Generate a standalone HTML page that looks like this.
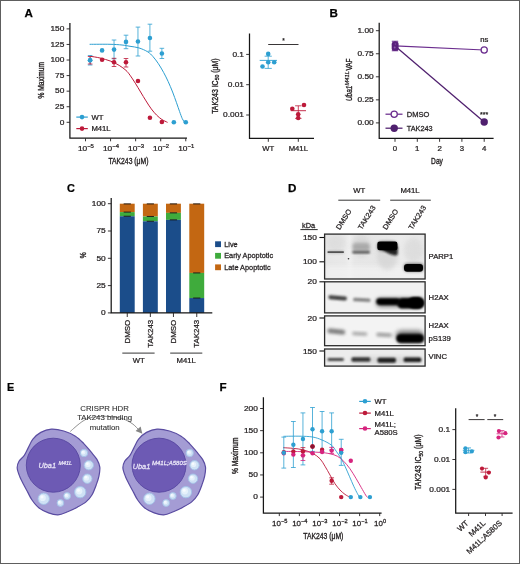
<!DOCTYPE html>
<html lang="en"><head><meta charset="utf-8"><title>Figure</title>
<style>
html,body{margin:0;padding:0;background:#fff}
svg{display:block}
text{font-family:"Liberation Sans",Arial,Helvetica,sans-serif;fill:#231f20;stroke:#231f20;stroke-width:0.25px;paint-order:stroke}
</style></head><body>
<svg width="520" height="564" viewBox="0 0 520 564">
<defs>
<filter id="b1" x="-20%" y="-50%" width="140%" height="200%"><feGaussianBlur stdDeviation="0.9"/></filter>
<filter id="b2" x="-20%" y="-50%" width="140%" height="200%"><feGaussianBlur stdDeviation="1.4"/></filter>
<filter id="b3" x="-20%" y="-60%" width="140%" height="220%"><feGaussianBlur stdDeviation="2.2"/></filter>
<filter id="b08" x="-20%" y="-80%" width="140%" height="260%"><feGaussianBlur stdDeviation="0.8"/></filter>
<filter id="b05" x="-20%" y="-50%" width="140%" height="200%"><feGaussianBlur stdDeviation="0.55"/></filter>
<linearGradient id="bg1" x1="0" x2="1" y1="0" y2="0">
<stop offset="0" stop-color="#e6e6e6"/><stop offset="0.2" stop-color="#e9e9e9"/><stop offset="0.25" stop-color="#efefef"/><stop offset="0.3" stop-color="#e7e7e7"/><stop offset="0.5" stop-color="#e6e6e6"/><stop offset="0.75" stop-color="#ebebeb"/><stop offset="1" stop-color="#e8e8e8"/>
</linearGradient>
</defs>
<rect x="0" y="0" width="520" height="564" fill="#fff"/>

<g id="panelA">
<text transform="translate(24.50,16.80)" font-size="11.6" font-weight="bold" style="fill:#000;stroke:#000;">A</text>
<path d="M90.00 44.30C93.33 44.30 104.67 44.18 110.00 44.30C115.33 44.42 118.67 44.67 122.00 45.00C125.33 45.33 127.18 45.82 130.00 46.30C132.82 46.78 135.95 46.98 138.90 47.90C141.85 48.82 145.35 50.35 147.70 51.80C150.05 53.25 151.22 54.62 153.00 56.60C154.78 58.58 156.62 61.03 158.40 63.70C160.18 66.37 162.08 69.65 163.70 72.60C165.32 75.55 166.62 78.17 168.10 81.40C169.58 84.63 171.20 88.45 172.60 92.00C174.00 95.55 175.33 99.43 176.50 102.70C177.67 105.97 178.63 108.93 179.60 111.60C180.57 114.27 181.47 116.90 182.30 118.70C183.13 120.50 184.22 121.78 184.60 122.40" stroke="#2d9fd1" stroke-width="1.0" fill="none" stroke-linecap="round"/>
<path d="M90.60 56.30C92.17 56.58 96.63 57.18 100.00 58.00C103.37 58.82 107.60 59.97 110.80 61.20C114.00 62.43 116.67 63.87 119.20 65.40C121.73 66.93 124.20 68.77 126.00 70.40C127.80 72.03 128.45 73.07 130.00 75.20C131.55 77.33 133.53 80.40 135.30 83.20C137.07 86.00 138.82 89.05 140.60 92.00C142.38 94.95 144.22 98.08 146.00 100.90C147.78 103.72 149.53 106.53 151.30 108.90C153.07 111.27 154.83 113.33 156.60 115.10C158.37 116.87 160.13 118.32 161.90 119.50C163.67 120.68 166.32 121.75 167.20 122.20" stroke="#bd1a3a" stroke-width="1.0" fill="none" stroke-linecap="round"/>
<path d="M90.12 55.50V65.00M87.82 55.50H92.42M87.82 65.00H92.42" stroke="#2d9fd1" stroke-width="0.8" fill="none"/>
<path d="M114.04 40.00V58.80M111.74 40.00H116.34M111.74 58.80H116.34" stroke="#2d9fd1" stroke-width="0.8" fill="none"/>
<path d="M126.00 35.20V48.70M123.70 35.20H128.30M123.70 48.70H128.30" stroke="#2d9fd1" stroke-width="0.8" fill="none"/>
<path d="M137.96 27.10V56.00M135.66 27.10H140.26M135.66 56.00H140.26" stroke="#2d9fd1" stroke-width="0.8" fill="none"/>
<path d="M149.92 24.20V51.20M147.62 24.20H152.22M147.62 51.20H152.22" stroke="#2d9fd1" stroke-width="0.8" fill="none"/>
<path d="M161.88 48.30V58.50M159.58 48.30H164.18M159.58 58.50H164.18" stroke="#2d9fd1" stroke-width="0.8" fill="none"/>
<circle cx="90.12" cy="60.20" r="2.3" fill="#2d9fd1"/>
<circle cx="102.08" cy="50.40" r="2.3" fill="#2d9fd1"/>
<circle cx="114.04" cy="49.60" r="2.3" fill="#2d9fd1"/>
<circle cx="126.00" cy="41.90" r="2.3" fill="#2d9fd1"/>
<circle cx="137.96" cy="41.50" r="2.3" fill="#2d9fd1"/>
<circle cx="149.92" cy="38.00" r="2.3" fill="#2d9fd1"/>
<circle cx="161.88" cy="53.50" r="2.3" fill="#2d9fd1"/>
<circle cx="173.84" cy="122.30" r="2.3" fill="#2d9fd1"/>
<circle cx="185.80" cy="122.30" r="2.3" fill="#2d9fd1"/>
<path d="M90.12 56.50V64.00M87.82 56.50H92.42M87.82 64.00H92.42" stroke="#bd1a3a" stroke-width="0.8" fill="none"/>
<path d="M114.04 58.30V66.50M111.74 58.30H116.34M111.74 66.50H116.34" stroke="#bd1a3a" stroke-width="0.8" fill="none"/>
<path d="M126.00 58.50V67.00M123.70 58.50H128.30M123.70 67.00H128.30" stroke="#bd1a3a" stroke-width="0.8" fill="none"/>
<circle cx="102.08" cy="59.80" r="2.3" fill="#bd1a3a"/>
<circle cx="114.04" cy="62.30" r="2.3" fill="#bd1a3a"/>
<circle cx="126.00" cy="62.30" r="2.3" fill="#bd1a3a"/>
<circle cx="137.96" cy="81.00" r="2.3" fill="#bd1a3a"/>
<circle cx="149.92" cy="117.70" r="2.3" fill="#bd1a3a"/>
<circle cx="161.88" cy="122.00" r="2.3" fill="#bd1a3a"/>
<circle cx="90.12" cy="60.20" r="2.3" fill="#2d9fd1"/>
<path d="M69.90 22.90V138.20H187.00" stroke="#161616" stroke-width="1.25" fill="none" stroke-linejoin="miter"/>
<line x1="66.60" y1="28.88" x2="69.90" y2="28.88" stroke="#231f20" stroke-width="0.9"/>
<text transform="translate(64.40,31.18) scale(1.1,1)" font-size="7.6" text-anchor="end">150</text>
<line x1="66.60" y1="44.45" x2="69.90" y2="44.45" stroke="#231f20" stroke-width="0.9"/>
<text transform="translate(64.40,46.75) scale(1.1,1)" font-size="7.6" text-anchor="end">125</text>
<line x1="66.60" y1="60.02" x2="69.90" y2="60.02" stroke="#231f20" stroke-width="0.9"/>
<text transform="translate(64.40,62.32) scale(1.1,1)" font-size="7.6" text-anchor="end">100</text>
<line x1="66.60" y1="75.59" x2="69.90" y2="75.59" stroke="#231f20" stroke-width="0.9"/>
<text transform="translate(64.40,77.89) scale(1.1,1)" font-size="7.6" text-anchor="end">75</text>
<line x1="66.60" y1="91.16" x2="69.90" y2="91.16" stroke="#231f20" stroke-width="0.9"/>
<text transform="translate(64.40,93.46) scale(1.1,1)" font-size="7.6" text-anchor="end">50</text>
<line x1="66.60" y1="106.73" x2="69.90" y2="106.73" stroke="#231f20" stroke-width="0.9"/>
<text transform="translate(64.40,109.03) scale(1.1,1)" font-size="7.6" text-anchor="end">25</text>
<line x1="66.60" y1="122.30" x2="69.90" y2="122.30" stroke="#231f20" stroke-width="0.9"/>
<text transform="translate(64.40,124.60) scale(1.1,1)" font-size="7.6" text-anchor="end">0</text>
<line x1="85.50" y1="138.30" x2="85.50" y2="141.30" stroke="#231f20" stroke-width="0.9"/>
<text transform="translate(85.90,151.30) scale(1.1,1)" font-size="7.6" text-anchor="middle">10<tspan font-size="5.4" dy="-3">−5</tspan></text>
<line x1="110.57" y1="138.30" x2="110.57" y2="141.30" stroke="#231f20" stroke-width="0.9"/>
<text transform="translate(110.97,151.30) scale(1.1,1)" font-size="7.6" text-anchor="middle">10<tspan font-size="5.4" dy="-3">−4</tspan></text>
<line x1="135.64" y1="138.30" x2="135.64" y2="141.30" stroke="#231f20" stroke-width="0.9"/>
<text transform="translate(136.04,151.30) scale(1.1,1)" font-size="7.6" text-anchor="middle">10<tspan font-size="5.4" dy="-3">−3</tspan></text>
<line x1="160.71" y1="138.30" x2="160.71" y2="141.30" stroke="#231f20" stroke-width="0.9"/>
<text transform="translate(161.11,151.30) scale(1.1,1)" font-size="7.6" text-anchor="middle">10<tspan font-size="5.4" dy="-3">−2</tspan></text>
<line x1="185.78" y1="138.30" x2="185.78" y2="141.30" stroke="#231f20" stroke-width="0.9"/>
<text transform="translate(186.18,151.30) scale(1.1,1)" font-size="7.6" text-anchor="middle">10<tspan font-size="5.4" dy="-3">−1</tspan></text>
<text transform="translate(44.00,80.30) rotate(-90) scale(0.81,1)" font-size="8.2" text-anchor="middle" style="stroke-width:0.35px;">% Maximum</text>
<text transform="translate(128.40,164.00) scale(0.83,1)" font-size="8.2" text-anchor="middle" style="stroke-width:0.35px;">TAK243 (μM)</text>
<line x1="76.30" y1="117.10" x2="87.80" y2="117.10" stroke="#2d9fd1" stroke-width="1.2"/>
<circle cx="82.00" cy="117.10" r="2.3" fill="#2d9fd1"/>
<text transform="translate(91.40,119.60) scale(1.1,1)" font-size="7">WT</text>
<line x1="76.30" y1="128.60" x2="87.80" y2="128.60" stroke="#bd1a3a" stroke-width="1.2"/>
<circle cx="82.00" cy="128.60" r="2.3" fill="#bd1a3a"/>
<text transform="translate(91.40,131.10) scale(1.1,1)" font-size="7">M41L</text>
<path d="M249.50 33.50V138.40H314.00" stroke="#161616" stroke-width="1.25" fill="none" stroke-linejoin="miter"/>
<line x1="246.20" y1="54.40" x2="249.50" y2="54.40" stroke="#231f20" stroke-width="0.9"/>
<text transform="translate(244.00,56.70) scale(1.1,1)" font-size="7.6" text-anchor="end">0.1</text>
<line x1="246.20" y1="84.70" x2="249.50" y2="84.70" stroke="#231f20" stroke-width="0.9"/>
<text transform="translate(244.00,87.00) scale(1.1,1)" font-size="7.6" text-anchor="end">0.01</text>
<line x1="246.20" y1="115.00" x2="249.50" y2="115.00" stroke="#231f20" stroke-width="0.9"/>
<text transform="translate(244.00,117.30) scale(1.1,1)" font-size="7.6" text-anchor="end">0.001</text>
<line x1="268.30" y1="138.40" x2="268.30" y2="141.80" stroke="#231f20" stroke-width="0.9"/>
<text transform="translate(268.30,150.60) scale(1.1,1)" font-size="7" text-anchor="middle">WT</text>
<line x1="298.30" y1="138.40" x2="298.30" y2="141.80" stroke="#231f20" stroke-width="0.9"/>
<text transform="translate(298.30,150.60) scale(1.1,1)" font-size="7" text-anchor="middle">M41L</text>
<text transform="translate(217.60,86.10) rotate(-90) scale(0.85,1)" font-size="8.2" text-anchor="middle" style="stroke-width:0.35px;">TAK243 IC<tspan font-size="6" dy="1.8">50</tspan><tspan dy="-1.8"> (μM)</tspan></text>
<line x1="268.20" y1="44.50" x2="298.50" y2="44.50" stroke="#231f20" stroke-width="0.9"/>
<text transform="translate(283.40,43.40)" font-size="6.5" text-anchor="middle">*</text>
<line x1="259.70" y1="60.40" x2="277.00" y2="60.40" stroke="#2d9fd1" stroke-width="0.9"/>
<path d="M268.20 56.20V68.40M264.60 56.20H271.80M264.60 68.40H271.80" stroke="#2d9fd1" stroke-width="0.8" fill="none"/>
<circle cx="268.20" cy="53.90" r="2.3" fill="#2d9fd1"/>
<circle cx="268.20" cy="62.20" r="2.3" fill="#2d9fd1"/>
<circle cx="274.20" cy="62.20" r="2.3" fill="#2d9fd1"/>
<circle cx="262.50" cy="66.50" r="2.3" fill="#2d9fd1"/>
<line x1="290.80" y1="110.70" x2="306.00" y2="110.70" stroke="#bd1a3a" stroke-width="0.9"/>
<path d="M298.30 105.80V118.40M295.10 105.80H301.50M295.10 118.40H301.50" stroke="#bd1a3a" stroke-width="0.8" fill="none"/>
<circle cx="292.30" cy="108.80" r="2.3" fill="#bd1a3a"/>
<circle cx="304.00" cy="105.00" r="2.3" fill="#bd1a3a"/>
<circle cx="298.20" cy="114.20" r="2.3" fill="#bd1a3a"/>
<circle cx="298.20" cy="118.00" r="2.3" fill="#bd1a3a"/>
</g>
<g id="panelB">
<text transform="translate(329.40,16.60)" font-size="11.6" font-weight="bold" style="fill:#000;stroke:#000;">B</text>
<line x1="395.00" y1="45.90" x2="484.20" y2="50.00" stroke="#6b2d8e" stroke-width="1.25"/>
<line x1="395.00" y1="45.90" x2="484.20" y2="122.00" stroke="#4f1f6e" stroke-width="1.25"/>
<path d="M395.00 41.20V50.80M391.80 41.20H398.20M391.80 50.80H398.20" stroke="#6b2d8e" stroke-width="1.1" fill="none"/>
<rect x="391.7" y="41.6" width="6.9" height="9.2" rx="2.6" fill="#5a1f7c"/>
<circle cx="394.70" cy="47.60" r="1.0" fill="#8a5aa8"/>
<circle cx="395.40" cy="44.00" r="0.8" fill="#7d4a9d"/>
<circle cx="484.20" cy="50.00" r="3.1" fill="#fff" stroke="#6b2d8e" stroke-width="1.25"/>
<circle cx="484.20" cy="122.00" r="3.7" fill="#4f1f6e"/>
<text transform="translate(484.20,41.80) scale(1.1,1)" font-size="7" text-anchor="middle">ns</text>
<text transform="translate(484.20,117.00)" font-size="7" text-anchor="middle">***</text>
<path d="M379.20 22.70V138.30H493.60" stroke="#161616" stroke-width="1.25" fill="none" stroke-linejoin="miter"/>
<line x1="375.90" y1="30.70" x2="379.20" y2="30.70" stroke="#231f20" stroke-width="0.9"/>
<text transform="translate(373.70,33.00) scale(1.1,1)" font-size="7.6" text-anchor="end">1.00</text>
<line x1="375.90" y1="53.75" x2="379.20" y2="53.75" stroke="#231f20" stroke-width="0.9"/>
<text transform="translate(373.70,56.05) scale(1.1,1)" font-size="7.6" text-anchor="end">0.75</text>
<line x1="375.90" y1="76.80" x2="379.20" y2="76.80" stroke="#231f20" stroke-width="0.9"/>
<text transform="translate(373.70,79.10) scale(1.1,1)" font-size="7.6" text-anchor="end">0.50</text>
<line x1="375.90" y1="99.85" x2="379.20" y2="99.85" stroke="#231f20" stroke-width="0.9"/>
<text transform="translate(373.70,102.15) scale(1.1,1)" font-size="7.6" text-anchor="end">0.25</text>
<line x1="375.90" y1="122.90" x2="379.20" y2="122.90" stroke="#231f20" stroke-width="0.9"/>
<text transform="translate(373.70,125.20) scale(1.1,1)" font-size="7.6" text-anchor="end">0.00</text>
<line x1="395.00" y1="138.30" x2="395.00" y2="141.80" stroke="#231f20" stroke-width="0.9"/>
<text transform="translate(395.00,151.40) scale(1.12,1)" font-size="7" text-anchor="middle">0</text>
<line x1="417.30" y1="138.30" x2="417.30" y2="141.80" stroke="#231f20" stroke-width="0.9"/>
<text transform="translate(417.30,151.40) scale(1.12,1)" font-size="7" text-anchor="middle">1</text>
<line x1="439.60" y1="138.30" x2="439.60" y2="141.80" stroke="#231f20" stroke-width="0.9"/>
<text transform="translate(439.60,151.40) scale(1.12,1)" font-size="7" text-anchor="middle">2</text>
<line x1="461.90" y1="138.30" x2="461.90" y2="141.80" stroke="#231f20" stroke-width="0.9"/>
<text transform="translate(461.90,151.40) scale(1.12,1)" font-size="7" text-anchor="middle">3</text>
<line x1="484.20" y1="138.30" x2="484.20" y2="141.80" stroke="#231f20" stroke-width="0.9"/>
<text transform="translate(484.20,151.40) scale(1.12,1)" font-size="7" text-anchor="middle">4</text>
<text transform="translate(437.00,164.20) scale(0.81,1)" font-size="8.2" text-anchor="middle" style="stroke-width:0.35px;">Day</text>
<text transform="translate(351.70,101.00) rotate(-90) scale(0.78,1)" font-size="8.2" font-style="italic" style="stroke-width:0.35px;">Uba1</text>
<text transform="translate(348.90,85.40) rotate(-90)" font-size="5.7" font-style="italic">M41L</text>
<text transform="translate(351.70,70.60) rotate(-90) scale(0.78,1)" font-size="8.2" style="stroke-width:0.35px;">VAF</text>
<line x1="385.50" y1="114.20" x2="402.50" y2="114.20" stroke="#6b2d8e" stroke-width="1.25"/>
<circle cx="394.20" cy="114.20" r="3.1" fill="#fff" stroke="#6b2d8e" stroke-width="1.25"/>
<text transform="translate(406.70,116.80) scale(1.08,1)" font-size="7">DMSO</text>
<line x1="385.50" y1="128.20" x2="402.50" y2="128.20" stroke="#4f1f6e" stroke-width="1.25"/>
<circle cx="394.20" cy="128.20" r="3.7" fill="#4f1f6e"/>
<text transform="translate(406.70,130.80) scale(1.05,1)" font-size="7">TAK243</text>
</g>
<g id="panelC">
<text transform="translate(66.90,191.60) scale(0.94,1)" font-size="11.6" font-weight="bold" style="fill:#000;stroke:#000;">C</text>
<rect x="119.80" y="203.70" width="14.9" height="8.41" fill="#c36712"/>
<rect x="119.80" y="212.11" width="14.9" height="4.15" fill="#3fab3c"/>
<rect x="119.80" y="216.26" width="14.9" height="96.64" fill="#1b4d8a"/>
<line x1="123.65" y1="203.90" x2="130.85" y2="203.90" stroke="#111" stroke-width="0.9"/>
<line x1="123.65" y1="212.11" x2="130.85" y2="212.11" stroke="#111" stroke-width="0.9"/>
<line x1="123.65" y1="216.26" x2="130.85" y2="216.26" stroke="#111" stroke-width="0.9"/>
<rect x="142.90" y="203.70" width="14.9" height="12.78" fill="#c36712"/>
<rect x="142.90" y="216.48" width="14.9" height="4.80" fill="#3fab3c"/>
<rect x="142.90" y="221.28" width="14.9" height="91.62" fill="#1b4d8a"/>
<line x1="146.75" y1="203.90" x2="153.95" y2="203.90" stroke="#111" stroke-width="0.9"/>
<line x1="146.75" y1="216.48" x2="153.95" y2="216.48" stroke="#111" stroke-width="0.9"/>
<line x1="146.75" y1="221.28" x2="153.95" y2="221.28" stroke="#111" stroke-width="0.9"/>
<rect x="166.00" y="203.70" width="14.9" height="9.17" fill="#c36712"/>
<rect x="166.00" y="212.87" width="14.9" height="6.99" fill="#3fab3c"/>
<rect x="166.00" y="219.86" width="14.9" height="93.04" fill="#1b4d8a"/>
<line x1="169.85" y1="203.90" x2="177.05" y2="203.90" stroke="#111" stroke-width="0.9"/>
<line x1="169.85" y1="212.87" x2="177.05" y2="212.87" stroke="#111" stroke-width="0.9"/>
<line x1="169.85" y1="219.86" x2="177.05" y2="219.86" stroke="#111" stroke-width="0.9"/>
<rect x="189.30" y="203.70" width="14.9" height="69.23" fill="#c36712"/>
<rect x="189.30" y="272.93" width="14.9" height="25.12" fill="#3fab3c"/>
<rect x="189.30" y="298.05" width="14.9" height="14.85" fill="#1b4d8a"/>
<line x1="193.15" y1="203.90" x2="200.35" y2="203.90" stroke="#111" stroke-width="0.9"/>
<line x1="193.15" y1="272.93" x2="200.35" y2="272.93" stroke="#111" stroke-width="0.9"/>
<line x1="193.15" y1="298.05" x2="200.35" y2="298.05" stroke="#111" stroke-width="0.9"/>
<path d="M111.20 198.00V312.90H212.30" stroke="#161616" stroke-width="1.25" fill="none" stroke-linejoin="miter"/>
<line x1="107.90" y1="203.70" x2="111.20" y2="203.70" stroke="#231f20" stroke-width="0.9"/>
<text transform="translate(105.70,206.00) scale(1.1,1)" font-size="7.6" text-anchor="end">100</text>
<line x1="107.90" y1="231.00" x2="111.20" y2="231.00" stroke="#231f20" stroke-width="0.9"/>
<text transform="translate(105.70,233.30) scale(1.1,1)" font-size="7.6" text-anchor="end">75</text>
<line x1="107.90" y1="258.30" x2="111.20" y2="258.30" stroke="#231f20" stroke-width="0.9"/>
<text transform="translate(105.70,260.60) scale(1.1,1)" font-size="7.6" text-anchor="end">50</text>
<line x1="107.90" y1="285.60" x2="111.20" y2="285.60" stroke="#231f20" stroke-width="0.9"/>
<text transform="translate(105.70,287.90) scale(1.1,1)" font-size="7.6" text-anchor="end">25</text>
<line x1="107.90" y1="312.90" x2="111.20" y2="312.90" stroke="#231f20" stroke-width="0.9"/>
<text transform="translate(105.70,315.20) scale(1.1,1)" font-size="7.6" text-anchor="end">0</text>
<line x1="127.25" y1="312.90" x2="127.25" y2="317.00" stroke="#231f20" stroke-width="0.9"/>
<text transform="translate(129.85,319.80) rotate(-90) scale(1.1,1)" font-size="7.2" text-anchor="end">DMSO</text>
<line x1="150.35" y1="312.90" x2="150.35" y2="317.00" stroke="#231f20" stroke-width="0.9"/>
<text transform="translate(152.95,319.80) rotate(-90) scale(1.1,1)" font-size="7.2" text-anchor="end">TAK243</text>
<line x1="173.45" y1="312.90" x2="173.45" y2="317.00" stroke="#231f20" stroke-width="0.9"/>
<text transform="translate(176.05,319.80) rotate(-90) scale(1.1,1)" font-size="7.2" text-anchor="end">DMSO</text>
<line x1="196.75" y1="312.90" x2="196.75" y2="317.00" stroke="#231f20" stroke-width="0.9"/>
<text transform="translate(199.35,319.80) rotate(-90) scale(1.1,1)" font-size="7.2" text-anchor="end">TAK243</text>
<text transform="translate(86.00,255.30) rotate(-90) scale(0.81,1)" font-size="8.2" text-anchor="middle" style="stroke-width:0.35px;">%</text>
<line x1="122.30" y1="353.10" x2="154.60" y2="353.10" stroke="#000" stroke-width="0.8"/>
<line x1="170.20" y1="353.10" x2="202.30" y2="353.10" stroke="#000" stroke-width="0.8"/>
<text transform="translate(138.60,362.80) scale(1.1,1)" font-size="7" text-anchor="middle">WT</text>
<text transform="translate(186.20,362.80) scale(1.1,1)" font-size="7" text-anchor="middle">M41L</text>
<rect x="215.1" y="241.30" width="5.9" height="5.8" fill="#1b4d8a"/>
<text transform="translate(224.20,246.70) scale(1.05,1)" font-size="7">Live</text>
<rect x="215.1" y="252.90" width="5.9" height="5.8" fill="#3fab3c"/>
<text transform="translate(224.20,258.30) scale(1.05,1)" font-size="7">Early Apoptotic</text>
<rect x="215.1" y="264.40" width="5.9" height="5.8" fill="#c36712"/>
<text transform="translate(224.20,269.80) scale(1.05,1)" font-size="7">Late Apoptotic</text>
</g>
<g id="panelD">
<text transform="translate(288.00,192.40)" font-size="11.6" font-weight="bold" style="fill:#000;stroke:#000;">D</text>
<text transform="translate(359.20,192.80) scale(1.1,1)" font-size="7" text-anchor="middle">WT</text>
<text transform="translate(410.00,192.80) scale(1.1,1)" font-size="7" text-anchor="middle">M41L</text>
<line x1="338.30" y1="200.20" x2="380.20" y2="200.20" stroke="#000" stroke-width="0.8"/>
<line x1="390.20" y1="200.20" x2="430.80" y2="200.20" stroke="#000" stroke-width="0.8"/>
<text transform="translate(339.80,230.20) rotate(-58) scale(1.05,1)" font-size="7.2">DMSO</text>
<text transform="translate(361.70,230.20) rotate(-58) scale(1.05,1)" font-size="7.2">TAK243</text>
<text transform="translate(386.50,230.20) rotate(-58) scale(1.05,1)" font-size="7.2">DMSO</text>
<text transform="translate(412.20,230.20) rotate(-58) scale(1.05,1)" font-size="7.2">TAK243</text>
<text transform="translate(302.00,227.70) scale(1.02,1)" font-size="7.3">kDa</text>
<line x1="300.40" y1="229.60" x2="317.70" y2="229.60" stroke="#111" stroke-width="0.9"/>
<line x1="319.40" y1="237.50" x2="324.60" y2="237.50" stroke="#111" stroke-width="1.1"/>
<text transform="translate(316.90,240.10) scale(1.1,1)" font-size="7.6" text-anchor="end">150</text>
<line x1="319.40" y1="261.80" x2="324.60" y2="261.80" stroke="#111" stroke-width="1.1"/>
<text transform="translate(316.90,264.40) scale(1.1,1)" font-size="7.6" text-anchor="end">100</text>
<line x1="319.40" y1="281.80" x2="324.60" y2="281.80" stroke="#111" stroke-width="1.1"/>
<text transform="translate(316.90,284.40) scale(1.1,1)" font-size="7.6" text-anchor="end">20</text>
<line x1="319.40" y1="318.00" x2="324.60" y2="318.00" stroke="#111" stroke-width="1.1"/>
<text transform="translate(316.90,320.60) scale(1.1,1)" font-size="7.6" text-anchor="end">20</text>
<line x1="319.40" y1="351.00" x2="324.60" y2="351.00" stroke="#111" stroke-width="1.1"/>
<text transform="translate(316.90,353.60) scale(1.1,1)" font-size="7.6" text-anchor="end">150</text>
<text transform="translate(428.60,259.00) scale(1.1,1)" font-size="7">PARP1</text>
<text transform="translate(428.60,299.70) scale(1.1,1)" font-size="7">H2AX</text>
<text transform="translate(428.60,328.20) scale(1.1,1)" font-size="7">H2AX</text>
<text transform="translate(428.60,340.70) scale(1.1,1)" font-size="7">pS139</text>
<text transform="translate(428.60,359.40) scale(1.1,1)" font-size="7">VINC</text>
<clipPath id="cp0"><rect x="324.6" y="234.1" width="100.50" height="44.90"/></clipPath>
<rect x="324.6" y="234.1" width="100.50" height="44.90" fill="url(#bg1)"/>
<clipPath id="cp1"><rect x="324.6" y="281.8" width="100.50" height="31.10"/></clipPath>
<rect x="324.6" y="281.8" width="100.50" height="31.10" fill="#f1f1f1"/>
<clipPath id="cp2"><rect x="324.6" y="315.9" width="100.50" height="29.80"/></clipPath>
<rect x="324.6" y="315.9" width="100.50" height="29.80" fill="#f3f3f3"/>
<clipPath id="cp3"><rect x="324.6" y="349.0" width="100.50" height="17.10"/></clipPath>
<rect x="324.6" y="349.0" width="100.50" height="17.10" fill="#ececec"/>
<g clip-path="url(#cp0)">
<rect x="324.6" y="266" width="101" height="13" fill="#f2f2f2" opacity="0.7" filter="url(#b3)"/>
<rect x="327.00" y="235.00" width="18.00" height="16.00" rx="8.0" fill="#d8d8d8" opacity="0.6" filter="url(#b3)"/>
<rect x="352.00" y="235.00" width="18.50" height="22.00" rx="11.0" fill="#d0d0d0" opacity="0.6" filter="url(#b3)"/>
<rect x="377.00" y="242.00" width="20.50" height="28.00" rx="14.0" fill="#cfcfcf" opacity="0.6" filter="url(#b3)"/>
<rect x="404.00" y="238.00" width="19.00" height="24.00" rx="12.0" fill="#d6d6d6" opacity="0.6" filter="url(#b3)"/>
<rect x="327.40" y="251.25" width="16.60" height="1.70" rx="0.85" fill="#2a2a2a" opacity="0.85" filter="url(#b05)"/>
<rect x="327.40" y="250.60" width="16.60" height="3.00" rx="1.5" fill="#777" opacity="0.35" filter="url(#b1)"/>
<rect x="352.50" y="242.70" width="17.30" height="7.40" rx="3.7" fill="#9a9a9a" opacity="0.7" filter="url(#b2)"/>
<rect x="352.50" y="247.50" width="17.30" height="4.00" rx="2.0" fill="#999" opacity="0.35" filter="url(#b2)"/>
<rect x="352.30" y="251.10" width="17.70" height="2.40" rx="1.2" fill="#4a4a4a" opacity="0.95" filter="url(#b1)"/>
<path d="M383.0 247.0H397.7V253.8Q397.7 255.6 395.2 255.4C391.0 255.0 387.0 253.0 383.0 250.0Z" fill="#141414" opacity="0.92" filter="url(#b08)"/>
<rect x="377.30" y="241.50" width="20.20" height="8.80" rx="2.4" fill="#000" opacity="1" filter="url(#b05)"/>
<rect x="377.20" y="241.40" width="20.30" height="9.60" rx="4.8" fill="#000" opacity="0.55" filter="url(#b2)"/>
<rect x="404.00" y="263.90" width="19.00" height="7.80" rx="3.2" fill="#000" opacity="1" filter="url(#b05)"/>
<rect x="403.80" y="263.50" width="19.80" height="8.00" rx="4.0" fill="#000" opacity="0.6" filter="url(#b2)"/>
<circle cx="348.50" cy="258.80" r="0.8" fill="#333"/>
</g>
<g clip-path="url(#cp1)">
<rect x="328.30" y="295.70" width="18.70" height="4.20" rx="2.1" fill="#3a3a3a" opacity="0.95" filter="url(#b1)" transform="rotate(5 337.65 297.80)"/>
<rect x="353.00" y="298.30" width="17.60" height="3.20" rx="1.6" fill="#6e6e6e" opacity="0.9" filter="url(#b1)" transform="rotate(3 361.80 299.90)"/>
<rect x="376.30" y="298.30" width="23.70" height="6.60" rx="3.3" fill="#000" opacity="1" filter="url(#b1)"/>
<rect x="397.00" y="298.00" width="26.70" height="10.40" rx="5.2" fill="#000" opacity="1" filter="url(#b1)"/>
<rect x="408.00" y="297.10" width="16.10" height="11.40" rx="5.7" fill="#000" opacity="1" filter="url(#b1)"/>
<rect x="376.00" y="297.90" width="48.00" height="9.00" rx="4.5" fill="#000" opacity="0.5" filter="url(#b3)"/>
</g>
<g clip-path="url(#cp2)">
<rect x="327.40" y="329.00" width="17.80" height="5.00" rx="2.5" fill="#7a7a7a" opacity="0.95" filter="url(#b2)" transform="rotate(6 336.30 331.50)"/>
<rect x="352.00" y="332.00" width="15.40" height="3.60" rx="1.8" fill="#a6a6a6" opacity="0.95" filter="url(#b2)" transform="rotate(3 359.70 333.80)"/>
<rect x="376.20" y="332.90" width="15.80" height="3.80" rx="1.9" fill="#9a9a9a" opacity="0.95" filter="url(#b2)" transform="rotate(3 384.10 334.80)"/>
<rect x="395.50" y="330.30" width="28.50" height="11.00" rx="5.5" fill="#555" opacity="0.7" filter="url(#b3)"/>
<rect x="396.60" y="334.50" width="27.00" height="8.00" rx="4" fill="#000" opacity="1" filter="url(#b1)"/>
<rect x="397.00" y="334.00" width="27.00" height="9.00" rx="4.5" fill="#000" opacity="0.6" filter="url(#b2)"/>
</g>
<g clip-path="url(#cp3)">
<rect x="327.60" y="357.90" width="16.20" height="3.00" rx="1" fill="#3a3a3a" opacity="0.95" filter="url(#b08)"/>
<rect x="351.60" y="357.60" width="18.70" height="4.00" rx="1.4" fill="#080808" opacity="1" filter="url(#b08)"/>
<rect x="377.40" y="357.70" width="18.60" height="5.00" rx="1.8" fill="#000" opacity="1" filter="url(#b08)"/>
<rect x="403.60" y="357.60" width="17.60" height="4.40" rx="1.5" fill="#000" opacity="1" filter="url(#b08)"/>
<rect x="351.60" y="357.00" width="69.60" height="6.00" rx="3.0" fill="#999" opacity="0.25" filter="url(#b3)"/>
</g>
<rect x="324.6" y="234.1" width="100.50" height="44.90" fill="none" stroke="#2a2a2a" stroke-width="1.3"/>
<rect x="324.6" y="281.8" width="100.50" height="31.10" fill="none" stroke="#2a2a2a" stroke-width="1.3"/>
<rect x="324.6" y="315.9" width="100.50" height="29.80" fill="none" stroke="#2a2a2a" stroke-width="1.3"/>
<rect x="324.6" y="349.0" width="100.50" height="17.10" fill="none" stroke="#2a2a2a" stroke-width="1.3"/>
</g>
<g id="panelE">
<text transform="translate(7.00,391.40) scale(0.94,1)" font-size="11.6" font-weight="bold" style="fill:#000;stroke:#000;">E</text>
<path d="M70.60 431.20C71.33 430.55 73.57 428.53 75.00 427.30C76.43 426.07 77.53 425.05 79.20 423.80C80.87 422.55 82.87 420.87 85.00 419.80C87.13 418.73 88.73 417.98 92.00 417.40C95.27 416.82 100.43 416.30 104.60 416.30C108.77 416.30 113.53 416.82 117.00 417.40C120.47 417.98 122.73 418.67 125.40 419.80C128.07 420.93 130.67 422.43 133.00 424.20C135.33 425.97 138.33 429.37 139.40 430.40" stroke="#858585" stroke-width="0.9" fill="none" stroke-linecap="round"/>
<path d="M142.4 433.8L135.6 430.9L140.6 426.6Z" fill="#858585"/>
<g transform="translate(0,0)">
<path d="M51.30 429.10C55.13 428.87 59.78 429.82 63.80 431.00C67.82 432.18 72.03 434.07 75.40 436.20C78.77 438.33 81.43 441.22 84.00 443.80C86.57 446.38 88.65 449.10 90.80 451.70C92.95 454.30 95.40 456.83 96.90 459.40C98.40 461.97 99.45 464.37 99.80 467.10C100.15 469.83 99.57 472.92 99.00 475.80C98.43 478.68 97.58 481.20 96.40 484.40C95.22 487.60 93.63 492.08 91.90 495.00C90.17 497.92 88.43 499.87 86.00 501.90C83.57 503.93 80.35 505.55 77.30 507.20C74.25 508.85 70.92 510.52 67.70 511.80C64.48 513.08 61.20 514.72 58.00 514.90C54.80 515.08 51.70 514.08 48.50 512.90C45.30 511.72 41.55 509.95 38.80 507.80C36.05 505.65 33.85 502.62 32.00 500.00C30.15 497.38 29.10 494.70 27.70 492.10C26.30 489.50 24.92 486.97 23.60 484.40C22.28 481.83 20.87 479.43 19.80 476.70C18.73 473.97 17.33 470.57 17.20 468.00C17.07 465.43 17.82 463.40 19.00 461.30C20.18 459.20 22.77 457.63 24.30 455.40C25.83 453.17 26.77 450.60 28.20 447.90C29.63 445.20 30.80 441.78 32.90 439.20C35.00 436.62 37.73 434.08 40.80 432.40C43.87 430.72 47.47 429.33 51.30 429.10Z" fill="#a49cd4" stroke="#5a4ca1" stroke-width="1.2"/>
<circle cx="53.3" cy="465.2" r="27" fill="#6d5ab4" stroke="#5746a0" stroke-width="0.9"/>
<circle cx="84.0" cy="453.0" r="3.7" fill="#cfe1f5" stroke="#a3c2e6" stroke-width="0.9"/>
<circle cx="83.33" cy="452.44" r="2.04" fill="#e6f1fb"/>
<circle cx="82.89" cy="451.89" r="0.96" fill="#f7fbff"/>
<circle cx="88.8" cy="465.2" r="4.7" fill="#cfe1f5" stroke="#a3c2e6" stroke-width="0.9"/>
<circle cx="87.95" cy="464.50" r="2.59" fill="#e6f1fb"/>
<circle cx="87.39" cy="463.79" r="1.22" fill="#f7fbff"/>
<circle cx="87.3" cy="478.7" r="4.7" fill="#cfe1f5" stroke="#a3c2e6" stroke-width="0.9"/>
<circle cx="86.45" cy="478.00" r="2.59" fill="#e6f1fb"/>
<circle cx="85.89" cy="477.29" r="1.22" fill="#f7fbff"/>
<circle cx="80.2" cy="492.1" r="5.7" fill="#cfe1f5" stroke="#a3c2e6" stroke-width="0.9"/>
<circle cx="79.17" cy="491.25" r="3.14" fill="#e6f1fb"/>
<circle cx="78.49" cy="490.39" r="1.48" fill="#f7fbff"/>
<circle cx="67.1" cy="496.0" r="3.4" fill="#cfe1f5" stroke="#a3c2e6" stroke-width="0.9"/>
<circle cx="66.49" cy="495.49" r="1.87" fill="#e6f1fb"/>
<circle cx="66.08" cy="494.98" r="0.88" fill="#f7fbff"/>
<circle cx="60.4" cy="503.0" r="3.4" fill="#cfe1f5" stroke="#a3c2e6" stroke-width="0.9"/>
<circle cx="59.79" cy="502.49" r="1.87" fill="#e6f1fb"/>
<circle cx="59.38" cy="501.98" r="0.88" fill="#f7fbff"/>
<circle cx="43.7" cy="498.8" r="5.7" fill="#cfe1f5" stroke="#a3c2e6" stroke-width="0.9"/>
<circle cx="42.67" cy="497.94" r="3.14" fill="#e6f1fb"/>
<circle cx="41.99" cy="497.09" r="1.48" fill="#f7fbff"/>
</g>
<g transform="translate(105.7,0)">
<path d="M51.30 429.10C55.13 428.87 59.78 429.82 63.80 431.00C67.82 432.18 72.03 434.07 75.40 436.20C78.77 438.33 81.43 441.22 84.00 443.80C86.57 446.38 88.65 449.10 90.80 451.70C92.95 454.30 95.40 456.83 96.90 459.40C98.40 461.97 99.45 464.37 99.80 467.10C100.15 469.83 99.57 472.92 99.00 475.80C98.43 478.68 97.58 481.20 96.40 484.40C95.22 487.60 93.63 492.08 91.90 495.00C90.17 497.92 88.43 499.87 86.00 501.90C83.57 503.93 80.35 505.55 77.30 507.20C74.25 508.85 70.92 510.52 67.70 511.80C64.48 513.08 61.20 514.72 58.00 514.90C54.80 515.08 51.70 514.08 48.50 512.90C45.30 511.72 41.55 509.95 38.80 507.80C36.05 505.65 33.85 502.62 32.00 500.00C30.15 497.38 29.10 494.70 27.70 492.10C26.30 489.50 24.92 486.97 23.60 484.40C22.28 481.83 20.87 479.43 19.80 476.70C18.73 473.97 17.33 470.57 17.20 468.00C17.07 465.43 17.82 463.40 19.00 461.30C20.18 459.20 22.77 457.63 24.30 455.40C25.83 453.17 26.77 450.60 28.20 447.90C29.63 445.20 30.80 441.78 32.90 439.20C35.00 436.62 37.73 434.08 40.80 432.40C43.87 430.72 47.47 429.33 51.30 429.10Z" fill="#a49cd4" stroke="#5a4ca1" stroke-width="1.2"/>
<circle cx="53.3" cy="465.2" r="27" fill="#6d5ab4" stroke="#5746a0" stroke-width="0.9"/>
<circle cx="84.0" cy="453.0" r="3.7" fill="#cfe1f5" stroke="#a3c2e6" stroke-width="0.9"/>
<circle cx="83.33" cy="452.44" r="2.04" fill="#e6f1fb"/>
<circle cx="82.89" cy="451.89" r="0.96" fill="#f7fbff"/>
<circle cx="88.8" cy="465.2" r="4.7" fill="#cfe1f5" stroke="#a3c2e6" stroke-width="0.9"/>
<circle cx="87.95" cy="464.50" r="2.59" fill="#e6f1fb"/>
<circle cx="87.39" cy="463.79" r="1.22" fill="#f7fbff"/>
<circle cx="87.3" cy="478.7" r="4.7" fill="#cfe1f5" stroke="#a3c2e6" stroke-width="0.9"/>
<circle cx="86.45" cy="478.00" r="2.59" fill="#e6f1fb"/>
<circle cx="85.89" cy="477.29" r="1.22" fill="#f7fbff"/>
<circle cx="80.2" cy="492.1" r="5.7" fill="#cfe1f5" stroke="#a3c2e6" stroke-width="0.9"/>
<circle cx="79.17" cy="491.25" r="3.14" fill="#e6f1fb"/>
<circle cx="78.49" cy="490.39" r="1.48" fill="#f7fbff"/>
<circle cx="67.1" cy="496.0" r="3.4" fill="#cfe1f5" stroke="#a3c2e6" stroke-width="0.9"/>
<circle cx="66.49" cy="495.49" r="1.87" fill="#e6f1fb"/>
<circle cx="66.08" cy="494.98" r="0.88" fill="#f7fbff"/>
<circle cx="60.4" cy="503.0" r="3.4" fill="#cfe1f5" stroke="#a3c2e6" stroke-width="0.9"/>
<circle cx="59.79" cy="502.49" r="1.87" fill="#e6f1fb"/>
<circle cx="59.38" cy="501.98" r="0.88" fill="#f7fbff"/>
<circle cx="43.7" cy="498.8" r="5.7" fill="#cfe1f5" stroke="#a3c2e6" stroke-width="0.9"/>
<circle cx="42.67" cy="497.94" r="3.14" fill="#e6f1fb"/>
<circle cx="41.99" cy="497.09" r="1.48" fill="#f7fbff"/>
</g>
<text transform="translate(38.40,468.20) scale(0.92,1)" font-size="8" font-style="italic" style="fill:#ebe7f8;stroke:#ebe7f8;">Uba1</text>
<text transform="translate(58.40,465.10) scale(0.98,1)" font-size="5.6" font-style="italic" style="fill:#ebe7f8;stroke:#ebe7f8;">M41L</text>
<text transform="translate(132.70,468.60) scale(0.92,1)" font-size="8" font-style="italic" style="fill:#ebe7f8;stroke:#ebe7f8;">Uba1</text>
<text transform="translate(152.00,465.20) scale(1.04,1)" font-size="5.8" font-style="italic" style="fill:#ebe7f8;stroke:#ebe7f8;">M41L;A580S</text>
<text transform="translate(104.60,411.30)" font-size="7.8" text-anchor="middle" style="fill:#2b2b2b;stroke:#2b2b2b;stroke-width:0.08px;">CRISPR HDR</text>
<text transform="translate(104.60,420.30)" font-size="7.8" text-anchor="middle" style="fill:#2b2b2b;stroke:#2b2b2b;stroke-width:0.08px;">TAK243 binding</text>
<text transform="translate(104.60,429.60)" font-size="7.8" text-anchor="middle" style="fill:#2b2b2b;stroke:#2b2b2b;stroke-width:0.08px;">mutation</text>
</g>
<g id="panelF">
<text transform="translate(219.60,391.00)" font-size="11.6" font-weight="bold" style="fill:#000;stroke:#000;">F</text>
<path d="M283.80 436.30C286.50 436.28 295.20 436.08 300.00 436.20C304.80 436.32 308.93 436.37 312.60 437.00C316.27 437.63 318.89 438.67 322.00 440.00C325.11 441.33 328.88 443.12 331.25 445.00C333.62 446.88 334.58 448.96 336.25 451.25C337.92 453.54 339.79 456.25 341.25 458.75C342.71 461.25 343.64 463.33 345.00 466.25C346.36 469.17 347.94 472.92 349.40 476.25C350.86 479.58 352.40 483.33 353.75 486.25C355.10 489.17 356.56 491.98 357.50 493.75C358.44 495.52 359.08 496.38 359.40 496.90" stroke="#2d9fd1" stroke-width="0.9" fill="none" stroke-linecap="round"/>
<path d="M283.50 447.70C285.17 447.82 290.27 448.05 293.50 448.40C296.73 448.75 299.72 448.98 302.90 449.80C306.08 450.62 309.75 451.81 312.60 453.30C315.45 454.79 317.93 456.59 320.00 458.75C322.07 460.91 323.33 463.54 325.00 466.25C326.67 468.96 328.33 472.08 330.00 475.00C331.67 477.92 333.33 481.25 335.00 483.75C336.67 486.25 338.33 488.23 340.00 490.00C341.67 491.77 343.43 493.25 345.00 494.40C346.57 495.55 348.67 496.48 349.40 496.90" stroke="#bd1a3a" stroke-width="0.9" fill="none" stroke-linecap="round"/>
<path d="M283.80 451.40C286.50 451.43 293.97 451.43 300.00 451.60C306.03 451.77 315.00 452.03 320.00 452.40C325.00 452.77 327.08 453.15 330.00 453.80C332.92 454.45 335.21 455.05 337.50 456.30C339.79 457.55 341.67 459.22 343.75 461.30C345.83 463.38 347.92 465.88 350.00 468.80C352.08 471.72 354.38 475.68 356.25 478.80C358.12 481.92 359.69 484.80 361.25 487.50C362.81 490.20 364.59 493.38 365.60 495.00C366.61 496.62 367.02 496.83 367.30 497.20" stroke="#d6247e" stroke-width="0.9" fill="none" stroke-linecap="round"/>
<path d="M283.80 437.10V468.10M281.40 437.10H286.20M281.40 468.10H286.20" stroke="#2d9fd1" stroke-width="0.8" fill="none"/>
<path d="M293.37 421.50V467.50M290.97 421.50H295.77M290.97 467.50H295.77" stroke="#2d9fd1" stroke-width="0.8" fill="none"/>
<path d="M302.94 412.90V464.90M300.54 412.90H305.34M300.54 464.90H305.34" stroke="#2d9fd1" stroke-width="0.8" fill="none"/>
<path d="M312.51 407.50V451.40M310.11 407.50H314.91M310.11 451.40H314.91" stroke="#2d9fd1" stroke-width="0.8" fill="none"/>
<path d="M322.08 411.50V451.40M319.68 411.50H324.48M319.68 451.40H324.48" stroke="#2d9fd1" stroke-width="0.8" fill="none"/>
<path d="M331.65 412.90V449.80M329.25 412.90H334.05M329.25 449.80H334.05" stroke="#2d9fd1" stroke-width="0.8" fill="none"/>
<path d="M341.22 439.30V465.40M338.82 439.30H343.62M338.82 465.40H343.62" stroke="#2d9fd1" stroke-width="0.8" fill="none"/>
<path d="M302.94 447.60V455.20M300.54 447.60H305.34M300.54 455.20H305.34" stroke="#bd1a3a" stroke-width="0.8" fill="none"/>
<path d="M331.65 477.80V484.20M329.25 477.80H334.05M329.25 484.20H334.05" stroke="#bd1a3a" stroke-width="0.8" fill="none"/>
<path d="M302.94 450.60V460.50M300.54 450.60H305.34M300.54 460.50H305.34" stroke="#d6247e" stroke-width="0.8" fill="none"/>
<path d="M331.65 447.40V453.40M329.25 447.40H334.05M329.25 453.40H334.05" stroke="#d6247e" stroke-width="0.8" fill="none"/>
<circle cx="283.80" cy="452.20" r="2.2" fill="#bd1a3a"/>
<circle cx="293.37" cy="451.40" r="2.2" fill="#bd1a3a"/>
<circle cx="302.94" cy="451.40" r="2.2" fill="#bd1a3a"/>
<circle cx="312.51" cy="446.50" r="2.2" fill="#bd1a3a"/>
<circle cx="322.08" cy="449.80" r="2.2" fill="#bd1a3a"/>
<circle cx="331.65" cy="480.80" r="2.2" fill="#bd1a3a"/>
<circle cx="341.22" cy="497.10" r="2.2" fill="#bd1a3a"/>
<circle cx="283.80" cy="453.20" r="2.2" fill="#d6247e"/>
<circle cx="293.37" cy="454.60" r="2.2" fill="#d6247e"/>
<circle cx="302.94" cy="455.40" r="2.2" fill="#d6247e"/>
<circle cx="312.51" cy="453.30" r="2.2" fill="#d6247e"/>
<circle cx="322.08" cy="452.00" r="2.2" fill="#d6247e"/>
<circle cx="331.65" cy="450.60" r="2.2" fill="#d6247e"/>
<circle cx="341.22" cy="450.00" r="2.2" fill="#d6247e"/>
<circle cx="350.79" cy="460.80" r="2.2" fill="#d6247e"/>
<circle cx="283.80" cy="452.70" r="2.2" fill="#2d9fd1"/>
<circle cx="293.37" cy="444.70" r="2.2" fill="#2d9fd1"/>
<circle cx="302.94" cy="439.00" r="2.2" fill="#2d9fd1"/>
<circle cx="312.51" cy="429.30" r="2.2" fill="#2d9fd1"/>
<circle cx="322.08" cy="431.20" r="2.2" fill="#2d9fd1"/>
<circle cx="331.65" cy="431.20" r="2.2" fill="#2d9fd1"/>
<circle cx="341.22" cy="452.50" r="2.2" fill="#2d9fd1"/>
<circle cx="350.79" cy="497.10" r="2.2" fill="#2d9fd1"/>
<circle cx="360.36" cy="497.10" r="2.2" fill="#2d9fd1"/>
<circle cx="369.93" cy="497.10" r="2.2" fill="#2d9fd1"/>
<circle cx="312.51" cy="446.50" r="2.2" fill="#8e1230"/>
<circle cx="341.22" cy="450.00" r="2.2" fill="#d6247e"/>
<circle cx="341.22" cy="452.80" r="2.0" fill="#2d9fd1"/>
<path d="M263.40 397.30V513.10H381.60" stroke="#161616" stroke-width="1.25" fill="none" stroke-linejoin="miter"/>
<line x1="260.10" y1="408.50" x2="263.40" y2="408.50" stroke="#231f20" stroke-width="0.9"/>
<text transform="translate(257.90,410.80) scale(1.1,1)" font-size="7.6" text-anchor="end">200</text>
<line x1="260.10" y1="430.65" x2="263.40" y2="430.65" stroke="#231f20" stroke-width="0.9"/>
<text transform="translate(257.90,432.95) scale(1.1,1)" font-size="7.6" text-anchor="end">150</text>
<line x1="260.10" y1="452.80" x2="263.40" y2="452.80" stroke="#231f20" stroke-width="0.9"/>
<text transform="translate(257.90,455.10) scale(1.1,1)" font-size="7.6" text-anchor="end">100</text>
<line x1="260.10" y1="474.95" x2="263.40" y2="474.95" stroke="#231f20" stroke-width="0.9"/>
<text transform="translate(257.90,477.25) scale(1.1,1)" font-size="7.6" text-anchor="end">50</text>
<line x1="260.10" y1="497.10" x2="263.40" y2="497.10" stroke="#231f20" stroke-width="0.9"/>
<text transform="translate(257.90,499.40) scale(1.1,1)" font-size="7.6" text-anchor="end">0</text>
<line x1="279.30" y1="513.10" x2="279.30" y2="516.10" stroke="#231f20" stroke-width="0.9"/>
<text transform="translate(279.70,526.10) scale(1.05,1)" font-size="7.6" text-anchor="middle">10<tspan font-size="5.4" dy="-3">−5</tspan></text>
<line x1="299.38" y1="513.10" x2="299.38" y2="516.10" stroke="#231f20" stroke-width="0.9"/>
<text transform="translate(299.78,526.10) scale(1.05,1)" font-size="7.6" text-anchor="middle">10<tspan font-size="5.4" dy="-3">−4</tspan></text>
<line x1="319.46" y1="513.10" x2="319.46" y2="516.10" stroke="#231f20" stroke-width="0.9"/>
<text transform="translate(319.86,526.10) scale(1.05,1)" font-size="7.6" text-anchor="middle">10<tspan font-size="5.4" dy="-3">−3</tspan></text>
<line x1="339.54" y1="513.10" x2="339.54" y2="516.10" stroke="#231f20" stroke-width="0.9"/>
<text transform="translate(339.94,526.10) scale(1.05,1)" font-size="7.6" text-anchor="middle">10<tspan font-size="5.4" dy="-3">−2</tspan></text>
<line x1="359.62" y1="513.10" x2="359.62" y2="516.10" stroke="#231f20" stroke-width="0.9"/>
<text transform="translate(360.02,526.10) scale(1.05,1)" font-size="7.6" text-anchor="middle">10<tspan font-size="5.4" dy="-3">−1</tspan></text>
<line x1="379.70" y1="513.10" x2="379.70" y2="516.10" stroke="#231f20" stroke-width="0.9"/>
<text transform="translate(380.10,526.10) scale(1.05,1)" font-size="7.6" text-anchor="middle">10<tspan font-size="5.4" dy="-3">0</tspan></text>
<text transform="translate(237.60,455.80) rotate(-90) scale(0.81,1)" font-size="8.2" text-anchor="middle" style="stroke-width:0.35px;">% Maximum</text>
<text transform="translate(323.30,539.20) scale(0.83,1)" font-size="8.2" text-anchor="middle" style="stroke-width:0.35px;">TAK243 (μM)</text>
<line x1="359.20" y1="401.40" x2="370.80" y2="401.40" stroke="#2d9fd1" stroke-width="1.2"/>
<circle cx="365.00" cy="401.30" r="2.3" fill="#2d9fd1"/>
<text transform="translate(374.60,403.80) scale(1.1,1)" font-size="7">WT</text>
<line x1="359.20" y1="413.10" x2="370.80" y2="413.10" stroke="#bd1a3a" stroke-width="1.2"/>
<circle cx="365.00" cy="413.00" r="2.3" fill="#bd1a3a"/>
<text transform="translate(374.60,415.50) scale(1.1,1)" font-size="7">M41L</text>
<line x1="359.20" y1="428.60" x2="370.80" y2="428.60" stroke="#d6247e" stroke-width="1.2"/>
<circle cx="365.00" cy="428.50" r="2.3" fill="#d6247e"/>
<text transform="translate(374.60,426.50) scale(1.1,1)" font-size="7">M41L;</text>
<text transform="translate(374.60,434.70) scale(1.1,1)" font-size="7">A580S</text>
<path d="M455.70 408.20V513.20H512.60" stroke="#161616" stroke-width="1.25" fill="none" stroke-linejoin="miter"/>
<line x1="452.40" y1="429.60" x2="455.70" y2="429.60" stroke="#231f20" stroke-width="0.9"/>
<text transform="translate(450.20,431.90) scale(1.1,1)" font-size="7.6" text-anchor="end">0.1</text>
<line x1="452.40" y1="459.50" x2="455.70" y2="459.50" stroke="#231f20" stroke-width="0.9"/>
<text transform="translate(450.20,461.80) scale(1.1,1)" font-size="7.6" text-anchor="end">0.01</text>
<line x1="452.40" y1="489.40" x2="455.70" y2="489.40" stroke="#231f20" stroke-width="0.9"/>
<text transform="translate(450.20,491.70) scale(1.1,1)" font-size="7.6" text-anchor="end">0.001</text>
<text transform="translate(421.40,462.20) rotate(-90) scale(0.85,1)" font-size="8.2" text-anchor="middle" style="stroke-width:0.35px;">TAK243 IC<tspan font-size="6" dy="1.8">50</tspan><tspan dy="-1.8"> (μM)</tspan></text>
<line x1="468.60" y1="513.20" x2="468.60" y2="516.00" stroke="#231f20" stroke-width="0.9"/>
<text transform="translate(469.00,523.80) rotate(-43)" font-size="7.8" text-anchor="end">WT</text>
<line x1="485.50" y1="513.20" x2="485.50" y2="516.00" stroke="#231f20" stroke-width="0.9"/>
<text transform="translate(485.90,523.80) rotate(-43)" font-size="7.8" text-anchor="end">M41L</text>
<line x1="502.10" y1="513.20" x2="502.10" y2="516.00" stroke="#231f20" stroke-width="0.9"/>
<text transform="translate(502.50,523.80) rotate(-43)" font-size="7.8" text-anchor="end">M41L;A580S</text>
<line x1="468.60" y1="419.60" x2="484.60" y2="419.60" stroke="#231f20" stroke-width="0.9"/>
<line x1="487.30" y1="419.60" x2="503.20" y2="419.60" stroke="#231f20" stroke-width="0.9"/>
<text transform="translate(476.90,418.60)" font-size="6.5" text-anchor="middle">*</text>
<text transform="translate(495.00,418.60)" font-size="6.5" text-anchor="middle">*</text>
<line x1="462.80" y1="450.30" x2="474.40" y2="450.30" stroke="#2d9fd1" stroke-width="0.9"/>
<path d="M468.60 447.90V453.00M466.20 447.90H471.00M466.20 453.00H471.00" stroke="#2d9fd1" stroke-width="0.8" fill="none"/>
<circle cx="465.40" cy="448.30" r="2.1" fill="#2d9fd1"/>
<circle cx="465.40" cy="452.20" r="2.1" fill="#2d9fd1"/>
<circle cx="471.80" cy="451.40" r="2.1" fill="#2d9fd1"/>
<line x1="480.40" y1="472.10" x2="490.60" y2="472.10" stroke="#bd1a3a" stroke-width="0.9"/>
<path d="M485.70 468.30V476.30M483.30 468.30H488.10M483.30 476.30H488.10" stroke="#bd1a3a" stroke-width="0.8" fill="none"/>
<circle cx="482.00" cy="468.60" r="2.1" fill="#bd1a3a"/>
<circle cx="488.90" cy="472.60" r="2.1" fill="#bd1a3a"/>
<circle cx="485.70" cy="477.40" r="2.1" fill="#bd1a3a"/>
<line x1="496.60" y1="433.80" x2="507.40" y2="433.80" stroke="#d6247e" stroke-width="0.9"/>
<path d="M502.00 430.60V437.00M499.60 430.60H504.40M499.60 437.00H504.40" stroke="#d6247e" stroke-width="0.8" fill="none"/>
<circle cx="498.90" cy="431.10" r="2.1" fill="#d6247e"/>
<circle cx="505.30" cy="433.20" r="2.1" fill="#d6247e"/>
<circle cx="498.50" cy="437.50" r="2.1" fill="#d6247e"/>
</g>
<rect x="0.5" y="0.5" width="519" height="563" fill="none" stroke="#5e5e5e" stroke-width="1"/>
</svg>
</body></html>
